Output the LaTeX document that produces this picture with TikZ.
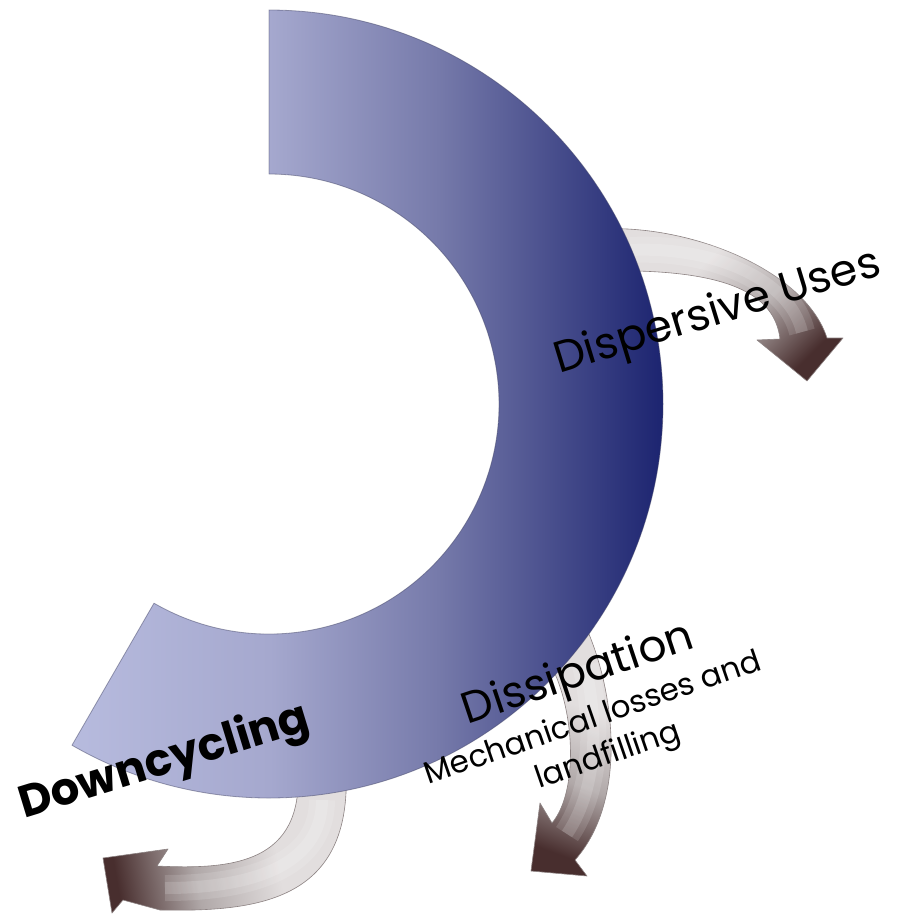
\documentclass[tikz,border=0pt]{standalone}
\usepackage{fontspec}
\setmainfont{Poppins}
\definecolor{arcA}{RGB}{183,187,222}
\definecolor{arcB}{RGB}{165,168,206}
\definecolor{arcC}{RGB}{118,122,170}
\definecolor{arcD}{RGB}{28,36,112}
\definecolor{arrL}{RGB}{226,222,222}
\definecolor{arrM}{RGB}{176,168,168}
\definecolor{arrD}{RGB}{72,46,46}
\definecolor{arrEdge}{RGB}{140,130,130}
\definecolor{arcEdge}{RGB}{70,72,105}
\pgfdeclarehorizontalshading{arcsh}{100bp}{color(0bp)=(arcA); color(25bp)=(arcA); color(41.75bp)=(arcB); color(56bp)=(arcC); color(75bp)=(arcD); color(100bp)=(arcD)}
\pgfdeclareverticalshading{arrsh}{100bp}{color(0bp)=(arrD); color(25bp)=(arrD); color(42bp)=(arrM); color(60bp)=(arrL); color(100bp)=(arrL)}
\begin{document}
\begin{tikzpicture}[x=1pt,y=-1pt,
  arrowshape/.style={shading=arrsh, draw=arrEdge, line width=0.6pt, line join=round},
  tubewide/.style={draw=white, draw opacity=0.13, line width=26pt, line cap=butt},
  tubenarrow/.style={draw=white, draw opacity=0.15, line width=12pt, line cap=butt},
  arcshape/.style={shading=arcsh, draw=arcEdge, draw opacity=0.5, line width=0.8pt, line join=round},
  lbl/.style={inner sep=0pt, anchor=base, text=black}]
\fill[white] (0,0) rectangle (898,914);
\useasboundingbox (0,0) rectangle (898,914);
% gray arrows (behind the arc)
\path[arrowshape, shading angle=45] (600,229) .. controls (690,224) and (805,270) .. (827,338) -- (843,338) -- (807,381) -- (757,340) -- (780,339) .. controls (775,295) and (730,268) .. (600,271) -- cycle;
\path[tubewide] (630,250) .. controls (715,246) and (790,280) .. (802,332);
\path[tubenarrow] (630,250) .. controls (715,246) and (790,280) .. (802,332);
\path[arrowshape, shading angle=-20] (585,625) .. controls (615,690) and (628,800) .. (575,860) -- (587,876) -- (531,871) -- (540,803) -- (552,823) .. controls (580,790) and (575,700) .. (545,655) -- cycle;
\path[tubewide] (585,665) .. controls (597,715) and (600,785) .. (567,834);
\path[tubenarrow] (585,665) .. controls (597,715) and (600,785) .. (567,834);
\path[arrowshape, shading angle=-80] (346,770) .. controls (352,900) and (260,912) .. (160,910) -- (123,900) -- (112,913) -- (103,858) -- (168,849) -- (157,866) .. controls (235,870) and (303,862) .. (298,770) -- cycle;
\path[tubewide] (322,800) .. controls (322,860) and (262,888) .. (165,888);
\path[tubenarrow] (322,800) .. controls (322,860) and (262,888) .. (165,888);
% block arc
\path[arcshape] (269,10) arc[start angle=-90, end angle=120, radius=394] -- (154,603.2) arc[start angle=120, end angle=-90, radius=230] -- cycle;
% labels
\node[lbl, rotate=17] (disp) at (721,324) {\fontsize{44}{44}\selectfont Dispersive Uses};
\node[lbl, rotate=18.5] (diss) at (582,686) {\fontsize{44}{44}\selectfont Dissipation};
\node[lbl, rotate=19] (mech) at (596,727) {\fontsize{31}{31}\selectfont Mechanical losses and};
\node[lbl, rotate=19] (land) at (611,764) {\fontsize{31}{31}\selectfont landfilling};
\node[lbl, rotate=17] (down) at (168,774) {\fontsize{45}{45}\selectfont\bfseries Downcycling};
\end{tikzpicture}
\end{document}
